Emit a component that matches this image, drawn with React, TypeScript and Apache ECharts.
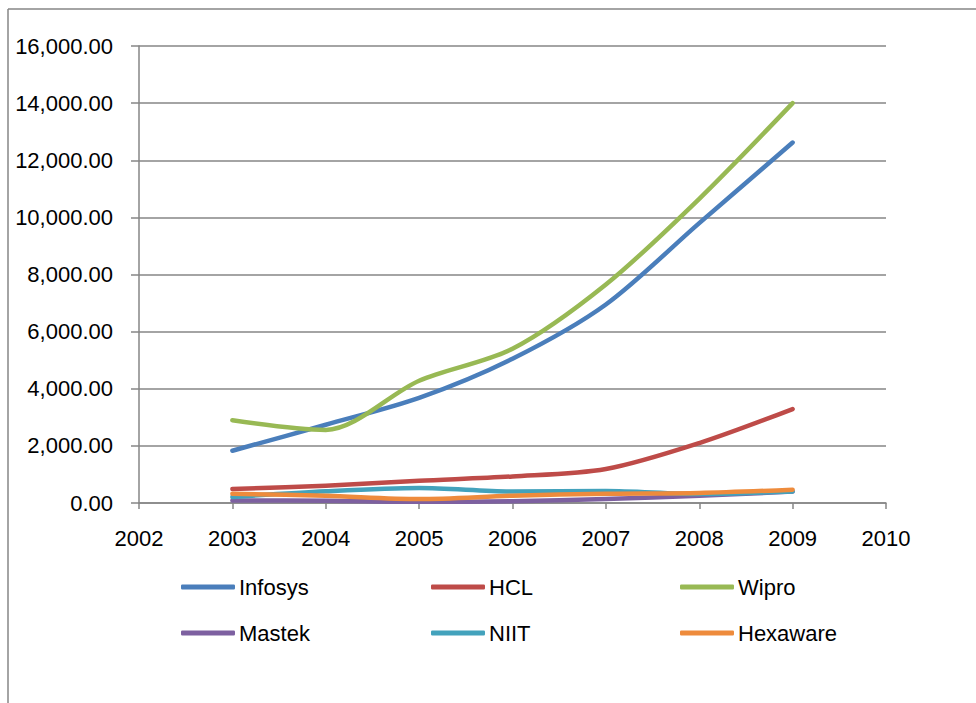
import React, { useEffect, useRef } from "react";
import * as echarts from "echarts";

const years = [2003, 2004, 2005, 2006, 2007, 2008, 2009];
const seriesNames = ["Infosys", "HCL", "Wipro", "Mastek", "NIIT", "Hexaware"];
const infosys = [1830, 2740, 3680, 5050, 6950, 9800, 12620];
const hcl = [490, 605, 780, 930, 1190, 2100, 3290];
const wipro = [2900, 2560, 4280, 5400, 7650, 10650, 14000];
const mastek = [90, 80, 40, 60, 140, 255, 400];
const niit = [210, 410, 525, 405, 420, 315, 405];
const hexaware = [325, 255, 140, 255, 325, 350, 465];
const colors = ["#4A7EBB", "#BE4B48", "#98B954", "#7D60A0", "#43A2BC", "#EE8B3C"];

const allValues = [infosys, hcl, wipro, mastek, niit, hexaware];

const FONT = "Liberation Sans";
const legendPos = [
  [181, 576],
  [431, 576],
  [680, 576],
  [181, 622],
  [431, 622],
  [680, 622],
];

export default function App() {
  const ref = useRef<HTMLDivElement>(null);
  useEffect(() => {
    if (!ref.current) return;
    const chart = echarts.init(ref.current, null, { renderer: "svg" });
    const gray = "#868686";
    chart.setOption({
      animation: false,
      backgroundColor: "#ffffff",
      grid: { left: 139, right: 90, top: 46, height: 457, containLabel: false },
      xAxis: {
        type: "value",
        min: 2002,
        max: 2010,
        interval: 1,
        axisLine: { show: true, lineStyle: { color: gray, width: 1.5 } },
        axisTick: { show: true, length: 6, lineStyle: { color: gray, width: 1.5 } },
        splitLine: { show: false },
        axisLabel: {
          margin: 24,
          color: "#000",
          fontFamily: FONT,
          fontSize: 22,
          formatter: (v: number) => String(v),
        },
      },
      yAxis: {
        type: "value",
        min: 0,
        max: 16000,
        interval: 2000,
        axisLine: { show: true, lineStyle: { color: gray, width: 1.5 } },
        axisTick: { show: true, length: 8, lineStyle: { color: gray, width: 1.5 } },
        splitLine: { show: true, lineStyle: { color: gray, width: 1.5 } },
        axisLabel: {
          margin: 26,
          color: "#000",
          fontFamily: FONT,
          fontSize: 22,
          formatter: (v: number) =>
            v.toLocaleString("en-US", { minimumFractionDigits: 2, maximumFractionDigits: 2 }),
        },
      },
      legend: seriesNames.map((n, i) => ({
        data: [n],
        left: legendPos[i][0],
        top: legendPos[i][1],
        icon: "roundRect",
        itemWidth: 54,
        itemHeight: 5,
        padding: 0,
        selectedMode: false,
        textStyle: { color: "#000", fontFamily: FONT, fontSize: 22, padding: [0, 0, 0, -1] },
      })),
      series: seriesNames.map((n, i) => ({
        name: n,
        type: "line",
        smooth: 0.3,
        symbol: "none",
        color: colors[i],
        lineStyle: { width: 4.5, color: colors[i], cap: "round", join: "round" },
        data: years.map((y, j) => [y, allValues[i][j]]),
      })),
      graphic: [
        { type: "line", shape: { x1: 8, y1: 9, x2: 976, y2: 9 }, style: { stroke: gray, lineWidth: 1.5 } },
        { type: "line", shape: { x1: 8, y1: 9, x2: 8, y2: 703 }, style: { stroke: gray, lineWidth: 1.5 } },
      ],
    });
    return () => chart.dispose();
  }, []);
  return (
    <div
      ref={ref}
      style={{ position: "absolute", left: 0, top: 0, width: 976, height: 703 }}
    />
  );
}
